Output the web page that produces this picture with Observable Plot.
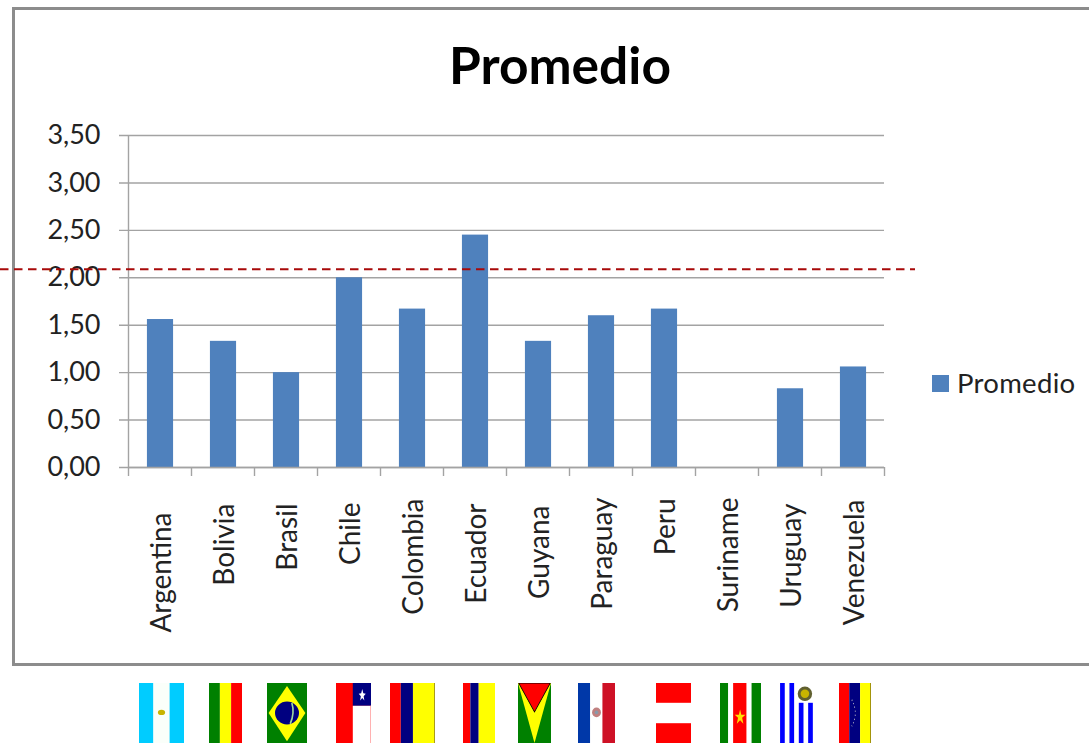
<!DOCTYPE html>
<html>
<head>
<meta charset="utf-8">
<script src="https://cdn.jsdelivr.net/npm/d3@7"></script>
<script src="https://cdn.jsdelivr.net/npm/@observablehq/plot@0.6"></script>
<style>
  html, body { margin: 0; padding: 0; background: #fff; overflow: hidden; }
  #page { position: relative; width: 1089px; height: 744px; font-family: Lato, sans-serif; color: #1c1c1c; overflow: hidden; }
  #frame { position: absolute; left: 12px; top: 7px; width: 1100px; height: 653px; border: 3px solid #8c8c8c; box-sizing: content-box; }
  #title { position: absolute; left: 300px; width: 520px; top: 33px; text-align: center; font-size: 51.5px; font-weight: 700; line-height: 62px; color: #000; }
  #legend { position: absolute; left: 932px; top: 367px; display: flex; align-items: center; font-size: 27.5px; line-height: 32px; letter-spacing: .3px; color: #222; }
  #legend i { display: block; width: 17px; height: 17px; background: #4f81bd; margin-right: 8px; }
  #chart { position: absolute; left: 0; top: 0; }
  .flag { position: absolute; top: 683px; height: 60px; }
</style>
</head>
<body>
<div id="page">
  <div id="frame"></div>
  <div id="chart"></div>
  <div id="title">Promedio</div>
  <div id="legend"><i></i><span>Promedio</span></div>
</div>
<script>
const categories = ["Argentina","Bolivia","Brasil","Chile","Colombia","Ecuador","Guyana","Paraguay","Peru","Suriname","Uruguay","Venezuela"];
const promedio = [1.56,1.33,1.00,2.00,1.67,2.45,1.33,1.60,1.67,0,0.83,1.06];
const referencia = [2.09];
const yTicks = [0,0.5,1,1.5,2,2.5,3,3.5];

const rows = categories.map((pais, i) => ({pais, valor: promedio[i]}));
const labelTop = {Argentina:45,Bolivia:36,Brasil:36,Chile:35,Colombia:31,Ecuador:36,Guyana:38,Paraguay:30,Peru:31,Suriname:30,Uruguay:36,Venezuela:32};
const grey = "#a3a3a3";

const chart = Plot.plot({
  width: 1089, height: 744,
  marginLeft: 128, marginRight: 205, marginTop: 135, marginBottom: 277,
  style: {background: "transparent", fontFamily: "Lato, sans-serif", overflow: "visible"},
  x: {domain: categories, paddingInner: 0.585, paddingOuter: 0.2925, align: 0.5, round: false, label: null},
  y: {domain: [0, 3.5], label: null},
  marks: [
    Plot.gridY(yTicks, {stroke: grey, strokeOpacity: 1, strokeWidth: 1.4, insetLeft: -9}),
    Plot.barY(rows, {x: "pais", y: "valor", fill: "#4f81bd", dx: 0.5}),
    Plot.ruleY([0], {stroke: grey, strokeWidth: 1.6}),
    Plot.ruleX(categories.slice(0, 1), {x: d => d, dx: -31.5, y1: 3.5, y2: 0, stroke: grey, strokeWidth: 1.4}),
    Plot.ruleX(categories, {x: d => d, dx: -31.5, y1: 0, y2: 0, insetBottom: -9, stroke: grey, strokeWidth: 1.4}),
    Plot.ruleX(categories.slice(-1), {x: d => d, dx: 31.5, y1: 0, y2: 0, insetBottom: -9, stroke: grey, strokeWidth: 1.4}),
    Plot.axisY(yTicks, {
      tickSize: 0, tickPadding: 28, fontSize: 27, fill: "#222",
      tickFormat: d => d.toFixed(2).replace(".", ","), label: null
    }),
    ...categories.map(c => Plot.axisX([c], {
      tickSize: 0, tickRotate: -90, tickPadding: labelTop[c], fontSize: 28, fill: "#222", label: null, dx: 2
    })),
    Plot.ruleY(referencia, {stroke: "#a80a0a", strokeWidth: 2, strokeDasharray: "8.5,5.5", insetLeft: -128, insetRight: -31})
  ]
});
document.getElementById("chart").append(chart);

/* Flag strip below the chart */
const stripes = (cols) => { let x = 0; return cols.map(([c, w]) => { const s = `<rect x="${x}" y="0" width="${w}" height="100" fill="${c}"/>`; x += w; return s; }).join(""); };
const flagArt = {
  Argentina: stripes([["#00ccff",32],["#fafffa",36],["#00ccff",32]]) + `<ellipse cx="50" cy="49" rx="8" ry="4.5" fill="#c8b400"/>`,
  Bolivia: stripes([["#008000",33],["#ffff00",34],["#ff0000",33]]),
  Brasil: `<rect width="100" height="100" fill="#008000"/><polygon points="50,5 96,50 50,97 4,50" fill="#ffff00"/><ellipse cx="50" cy="50" rx="30" ry="19" fill="#000080"/><path d="M62,33 Q70,50 58,68" stroke="#9fd89f" stroke-width="4" fill="none"/>`,
  Chile: stripes([["#ff0000",100]]) + `<rect x="48" width="52" height="38" fill="#000080"/><rect x="48" y="38" width="52" height="62" fill="#fff"/><rect x="98" y="38" width="2" height="62" fill="#ff9090"/><polygon points="75,10 78,17 85,18 79,22 81,29 75,25 69,29 71,22 65,18 72,17" fill="#fff"/>`,
  Colombia: stripes([["#ff0000",24],["#000080",27],["#ffff00",47],["#a09000",2]]),
  Ecuador: stripes([["#ff0000",23],["#000080",26],["#ffff00",51]]),
  Guyana: `<rect width="100" height="100" fill="#008000"/><polygon points="0,0 100,0 50,100" fill="#ffff00"/><polygon points="2,0 98,0 50,48" fill="#ff0000" stroke="#000" stroke-width="2"/>`,
  Paraguay: stripes([["#0038a8",33],["#fff",33],["#ce1126",34]]) + `<ellipse cx="50" cy="49" rx="12" ry="8" fill="#c08080"/><ellipse cx="50" cy="49" rx="5" ry="3" fill="#8899aa"/>`,
  Peru: `<rect width="100" height="100" fill="#ff0000"/><rect y="33" width="100" height="34" fill="#fff"/>`,
  Suriname: stripes([["#008000",20],["#fff",12],["#ff0000",33],["#fff",12],["#008000",23]]) + `<polygon points="49,44 52,53 62,53 54,58 57,68 49,62 41,68 44,58 36,53 46,53" fill="#ffe000"/>`,
  Uruguay: `<rect width="100" height="100" fill="#fff"/><rect x="3" width="13" height="100" fill="#0000ff"/><rect x="29" width="13" height="100" fill="#0000ff"/><rect x="55" y="33" width="13" height="67" fill="#0000ff"/><rect x="81" y="33" width="13" height="67" fill="#0000ff"/><ellipse cx="72" cy="18" rx="20" ry="12" fill="#606030"/><ellipse cx="72" cy="18" rx="12" ry="7" fill="#c8b400"/>`,
  Venezuela: stripes([["#ff0000",32],["#000080",34],["#ffff00",31],["#a09000",3]]) + `<path d="M40,28 Q62,50 40,72" stroke="#ccc" stroke-width="2.5" stroke-dasharray="2,5" fill="none"/>`
};
const flagBoxes = [[139,45],[209,33],[267,40],[336,35],[390,45],[463,32],[518,33],[578,37],[656,35],[720,41],[779,36],[839,32]];
const page = document.getElementById("page");
categories.forEach((c, i) => {
  const [left, w] = flagBoxes[i];
  const el = document.createElement("div");
  el.className = "flag";
  el.style.left = left + "px";
  el.style.width = w + "px";
  el.innerHTML = `<svg xmlns="http://www.w3.org/2000/svg" width="${w}" height="60" viewBox="0 0 100 100" preserveAspectRatio="none" style="display:block">${flagArt[c]}</svg>`;
  page.append(el);
});
</script>
</body>
</html>
